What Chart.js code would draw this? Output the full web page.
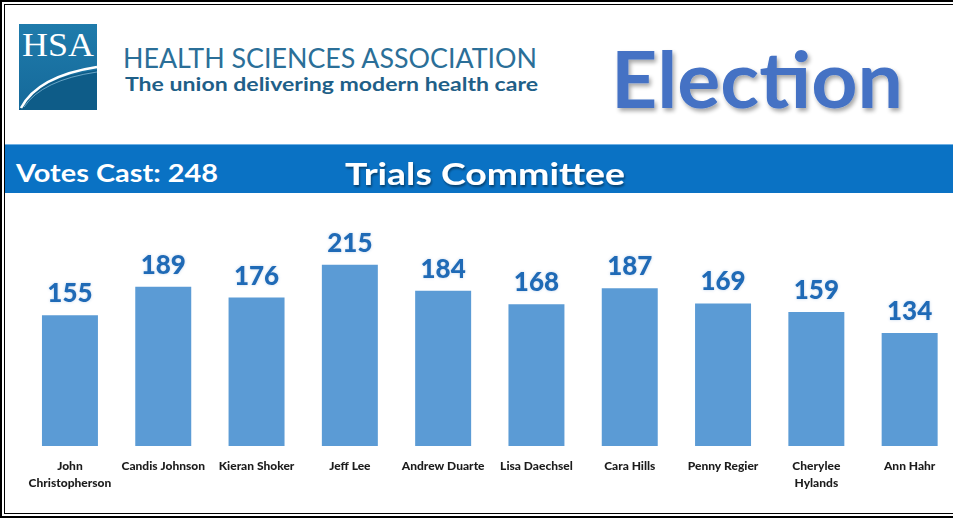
<!DOCTYPE html>
<html>
<head>
<meta charset="utf-8">
<script src="https://cdn.jsdelivr.net/npm/chart.js@4.4.1/dist/chart.umd.min.js"></script>
<style>
  html, body { margin: 0; padding: 0; width: 953px; height: 518px; overflow: hidden; background: #fff; }
  #header { position: absolute; left: 0; top: 0; }
  #band { position: absolute; left: 5px; top: 144px; width: 960px; height: 49px; background: #0a72c4; border-top: 1px solid #6fb0e4; box-sizing: border-box; }
  #wrap { position: absolute; left: 0; top: 196px; width: 960px; height: 310px; }
  #frame { position: absolute; left: 0; top: 0; width: 970px; height: 518px; box-sizing: border-box;
           border: 2px solid #000; border-right: none;
           box-shadow: inset 0 0 0 2px #fff, inset 0 0 0 3px #000; pointer-events: none; z-index: 10; }
</style>
</head>
<body>
<svg id="header" width="953" height="200" xmlns="http://www.w3.org/2000/svg">
  <defs>
    <linearGradient id="lg" x1="0" y1="0" x2="0" y2="1">
      <stop offset="0" stop-color="#1f7bab"/>
      <stop offset="1" stop-color="#15699a"/>
    </linearGradient>
    <filter id="sh" x="-10%" y="-10%" width="130%" height="140%">
      <feGaussianBlur in="SourceAlpha" stdDeviation="2"/>
      <feOffset dx="2" dy="3" result="o"/>
      <feComponentTransfer><feFuncA type="linear" slope="0.35"/></feComponentTransfer>
      <feMerge><feMergeNode/><feMergeNode in="SourceGraphic"/></feMerge>
    </filter>
    <filter id="sh2" x="-10%" y="-20%" width="130%" height="160%">
      <feGaussianBlur in="SourceAlpha" stdDeviation="1"/>
      <feOffset dx="1" dy="2" result="o"/>
      <feComponentTransfer><feFuncA type="linear" slope="0.45"/></feComponentTransfer>
      <feMerge><feMergeNode/><feMergeNode in="SourceGraphic"/></feMerge>
    </filter>
  </defs>
  <rect x="19" y="24" width="78" height="86" fill="url(#lg)"/>
  <path d="M19,110 Q36,78 97,70 L97,110 Z" fill="#0e5c88"/>
  <path d="M21,108 Q38,76 97,67" fill="none" stroke="#ffffff" stroke-width="2.5"/>
  <path d="M24,107 Q42,80 97,72" fill="none" stroke="#8fc3e0" stroke-width="1" opacity="0.7"/>
  <text x="22" y="56" fill="#ffffff" font-family="Liberation Serif, serif" font-size="33" textLength="72" lengthAdjust="spacingAndGlyphs">HSA</text>
  <text x="123" y="68" fill="#2b6f98" font-family="Lato, sans-serif" font-weight="400" font-size="26" textLength="414" lengthAdjust="spacingAndGlyphs">HEALTH SCIENCES ASSOCIATION</text>
  <text x="125" y="91" fill="#1f5f88" font-family="Lato, sans-serif" font-weight="700" font-size="19" textLength="413" lengthAdjust="spacingAndGlyphs">The union delivering modern health care</text>
  <text x="611" y="108" fill="#4472c4" font-family="Lato, sans-serif" font-weight="700" font-size="78" textLength="292" lengthAdjust="spacingAndGlyphs" filter="url(#sh)">Election</text>
</svg>
<div id="band">
  <svg width="960" height="48" xmlns="http://www.w3.org/2000/svg" style="position:absolute;left:0;top:0">
    <text x="11" y="37" fill="#ffffff" font-family="Lato, sans-serif" font-weight="700" font-size="25" textLength="202" lengthAdjust="spacingAndGlyphs">Votes Cast: 248</text>
    <text x="340" y="40" fill="#ffffff" font-family="Lato, sans-serif" font-weight="700" font-size="31" textLength="280" lengthAdjust="spacingAndGlyphs" filter="url(#sh2)">Trials Committee</text>
  </svg>
</div>
<div id="wrap"><canvas id="c"></canvas></div>
<div id="frame"></div>
<script>
const categories = [["John", "Christopherson"], "Candis Johnson", "Kieran Shoker", "Jeff Lee", "Andrew Duarte", "Lisa Daechsel", "Cara Hills", "Penny Regier", ["Cherylee", "Hylands"], "Ann Hahr"];
const votes = [155, 189, 176, 215, 184, 168, 187, 169, 159, 134];

const valueLabels = {
  id: 'valueLabels',
  afterDatasetsDraw(chart) {
    const ctx = chart.ctx;
    const meta = chart.getDatasetMeta(0);
    ctx.save();
    ctx.font = '900 26px Lato, sans-serif';
    ctx.fillStyle = '#1f6ab6';
    ctx.textAlign = 'center';
    ctx.textBaseline = 'alphabetic';
    ctx.shadowColor = 'rgba(120,160,210,0.45)';
    ctx.shadowBlur = 3;
    meta.data.forEach((bar, i) => {
      ctx.fillText(String(chart.data.datasets[0].data[i]), bar.x, bar.y - 13);
    });
    ctx.restore();
  }
};

new Chart(document.getElementById('c'), {
  type: 'bar',
  data: {
    labels: categories,
    datasets: [{
      data: votes,
      backgroundColor: '#5b9bd5',
      borderWidth: 0,
      barPercentage: 0.6,
      categoryPercentage: 1.0
    }]
  },
  options: {
    responsive: true,
    maintainAspectRatio: false,
    animation: false,
    devicePixelRatio: 1,
    layout: { padding: { left: 23.3, right: 3.7, top: 39.2, bottom: 0 } },
    plugins: { legend: { display: false }, tooltip: { enabled: false }, title: { display: false } },
    scales: {
      x: {
        grid: { display: false, drawTicks: false },
        border: { display: false },
        ticks: {
          color: '#1c1c1c',
          font: { family: 'Lato, sans-serif', weight: '900', size: 12, lineHeight: 1.45 },
          padding: 11,
          maxRotation: 0,
          autoSkip: false
        },
        afterFit(scale) { scale.height = 60; }
      },
      y: {
        display: false,
        min: 0,
        max: 250
      }
    }
  },
  plugins: [valueLabels]
});
</script>
</body>
</html>
